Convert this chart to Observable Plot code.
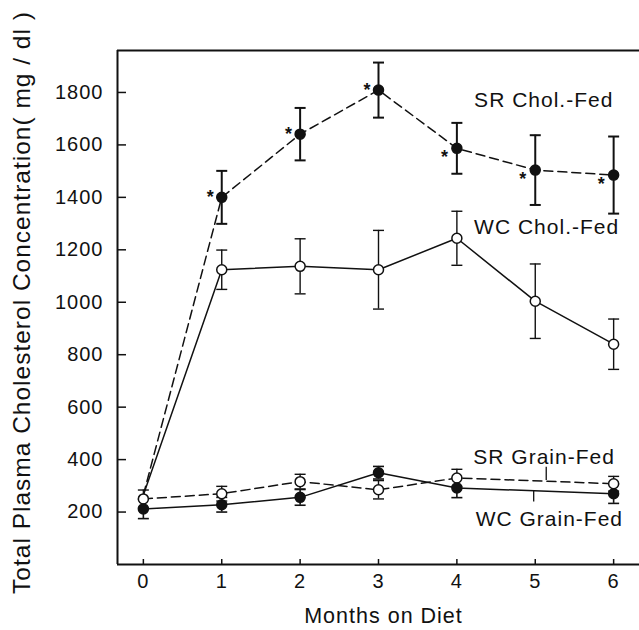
<!DOCTYPE html>
<html><head><meta charset="utf-8">
<script src="https://cdn.jsdelivr.net/npm/d3@7"></script>
<script src="https://cdn.jsdelivr.net/npm/@observablehq/plot@0.6"></script>
<style>
body{margin:0;background:#fff}
svg{display:block}
</style>
</head><body><div id="chart"></div>
<script>
// ---- data ----
const months = [0, 1, 2, 3, 4, 5, 6];
const srChol    = [265, 1400, 1641, 1809, 1587, 1504, 1485];
const srCholErr = [null, 101, 100, 105, 97, 133, 147];
const wcChol    = [265, 1124, 1137, 1124, 1244, 1004, 840];
const wcCholErr = [null, 75, 105, 150, 103, 142, 96];

const grainMonths = [0, 1, 2, 3, 4, 6];
const srGrain    = [250, 270, 316, 285, 330, 308];
const srGrainErr = [34, 28, 28, 35, 33, 28];
const wcGrain    = [212, 228, 256, 350, 292, 270];
const wcGrainErr = [37, 28, 30, 24, 37, 37];

const yTicks = [200, 400, 600, 800, 1000, 1200, 1400, 1600, 1800];
const xTicks = [0, 1, 2, 3, 4, 5, 6];

const seriesLabels = ["SR Chol.-Fed", "WC Chol.-Fed", "SR Grain-Fed", "WC Grain-Fed"];
const labelMonth = [4.22, 4.22, 4.21, 4.24];
const labelValue = [1769, 1286, 409, 172];

const pointerMonth = [5.14, 4.98];
const pointerTop = [371, 282];
const pointerBottom = [320, 238];

const xTitle = "Months on Diet";
const yTitle = "Total Plasma Cholesterol Concentration( mg / dl )";

const xDomain = [-0.33, 6.33];
const yDomain = [0, 1960];

// ---- build tables ----
const rows = (xs, ys, es) => xs.map((x, i) => ({x, y: ys[i], e: es[i]}));
const srCholRows = rows(months, srChol, srCholErr);
const wcCholRows = rows(months, wcChol, wcCholErr);
const srGrainRows = rows(grainMonths, srGrain, srGrainErr);
const wcGrainRows = rows(grainMonths, wcGrain, wcGrainErr);
const labelRows = seriesLabels.map((t, i) => ({t, x: labelMonth[i], y: labelValue[i]}));
const pointerRows = pointerMonth.map((x, i) => ({x, y1: pointerBottom[i], y2: pointerTop[i]}));

const ink = "#111";
const capSymbol = {draw(ctx, size) { const r = Math.sqrt(size / Math.PI); ctx.moveTo(-r, 0); ctx.lineTo(r, 0); }};

function errorMarks(data, sw) {
  const d = data.filter(r => r.e != null);
  return [
    Plot.ruleX(d, {x: "x", y1: r => r.y - r.e, y2: r => r.y + r.e, stroke: ink, strokeWidth: sw}),
    Plot.dot(d, {x: "x", y: r => r.y + r.e, symbol: capSymbol, r: 5.5, fill: "none", stroke: ink, strokeWidth: sw}),
    Plot.dot(d, {x: "x", y: r => r.y - r.e, symbol: capSymbol, r: 5.5, fill: "none", stroke: ink, strokeWidth: sw})
  ];
}
const dash = "9,5";

const chart = Plot.plot({
  width: 639,
  height: 630,
  marginLeft: 117,
  marginRight: 0,
  marginTop: 50,
  marginBottom: 66,
  style: {fontFamily: "'Liberation Sans', Arial, Helvetica, sans-serif", color: ink, background: "#fff"},
  x: {domain: xDomain},
  y: {domain: yDomain},
  marks: [
    // frame
    Plot.ruleX([xDomain[0]], {stroke: ink, strokeWidth: 2}),
    Plot.ruleY([yDomain[0]], {stroke: ink, strokeWidth: 2}),
    Plot.ruleY([yDomain[1]], {stroke: ink, strokeWidth: 2}),
    Plot.axisY({ticks: yTicks, tickFormat: d => String(d), tickSize: -9, tickPadding: 23, fontSize: 20, strokeWidth: 1.5, label: null}),
    Plot.axisX({ticks: xTicks, tickFormat: d => String(d), tickSize: -5, tickPadding: 14, fontSize: 20, strokeWidth: 1.5, label: null}),
    // lines
    Plot.line(srCholRows, {x: "x", y: "y", stroke: ink, strokeWidth: 1.5, strokeDasharray: dash}),
    Plot.line(wcCholRows, {x: "x", y: "y", stroke: ink, strokeWidth: 1.5}),
    Plot.line(srGrainRows, {x: "x", y: "y", stroke: ink, strokeWidth: 1.5, strokeDasharray: dash}),
    Plot.line(wcGrainRows, {x: "x", y: "y", stroke: ink, strokeWidth: 1.5}),
    // error bars
    ...errorMarks(srCholRows, 2),
    ...errorMarks(wcCholRows, 1.4),
    ...errorMarks(srGrainRows, 1.4),
    ...errorMarks(wcGrainRows, 1.6),
    // markers
    Plot.dot(srCholRows.filter(r => r.x > 0), {x: "x", y: "y", r: 5, fill: ink, stroke: ink}),
    Plot.dot(wcCholRows.filter(r => r.x > 0), {x: "x", y: "y", r: 5, fill: "#fff", stroke: ink, strokeWidth: 1.5}),
    Plot.dot(srGrainRows, {x: "x", y: "y", r: 5, fill: "#fff", stroke: ink, strokeWidth: 1.5}),
    Plot.dot(wcGrainRows, {x: "x", y: "y", r: 5, fill: ink, stroke: ink}),
    // significance asterisks
    Plot.text(srCholRows.filter(r => r.x >= 1 && r.x <= 3), {x: "x", y: "y", text: () => "*", dx: -11, dy: 0, fontSize: 18, fontWeight: "bold"}),
    Plot.text(srCholRows.filter(r => r.x >= 4), {x: "x", y: "y", text: () => "*", dx: -12, dy: 9, fontSize: 18, fontWeight: "bold"}),
    // series labels and pointers
    Plot.text(labelRows, {x: "x", y: "y", text: "t", textAnchor: "start", fontSize: 21}),
    Plot.ruleX(pointerRows, {x: "x", y1: "y1", y2: "y2", stroke: ink, strokeWidth: 1.3}),
    // axis titles
    Plot.text([xTitle], {frameAnchor: "bottom", dy: 58, dx: 5, fontSize: 21.5}),
    Plot.text([yTitle], {frameAnchor: "left", textAnchor: "middle", rotate: -90, dx: -95, dy: -5, fontSize: 24.5})
  ]
});
chart.style.letterSpacing = "1px";
document.getElementById("chart").appendChild(chart);
</script>
</body></html>
